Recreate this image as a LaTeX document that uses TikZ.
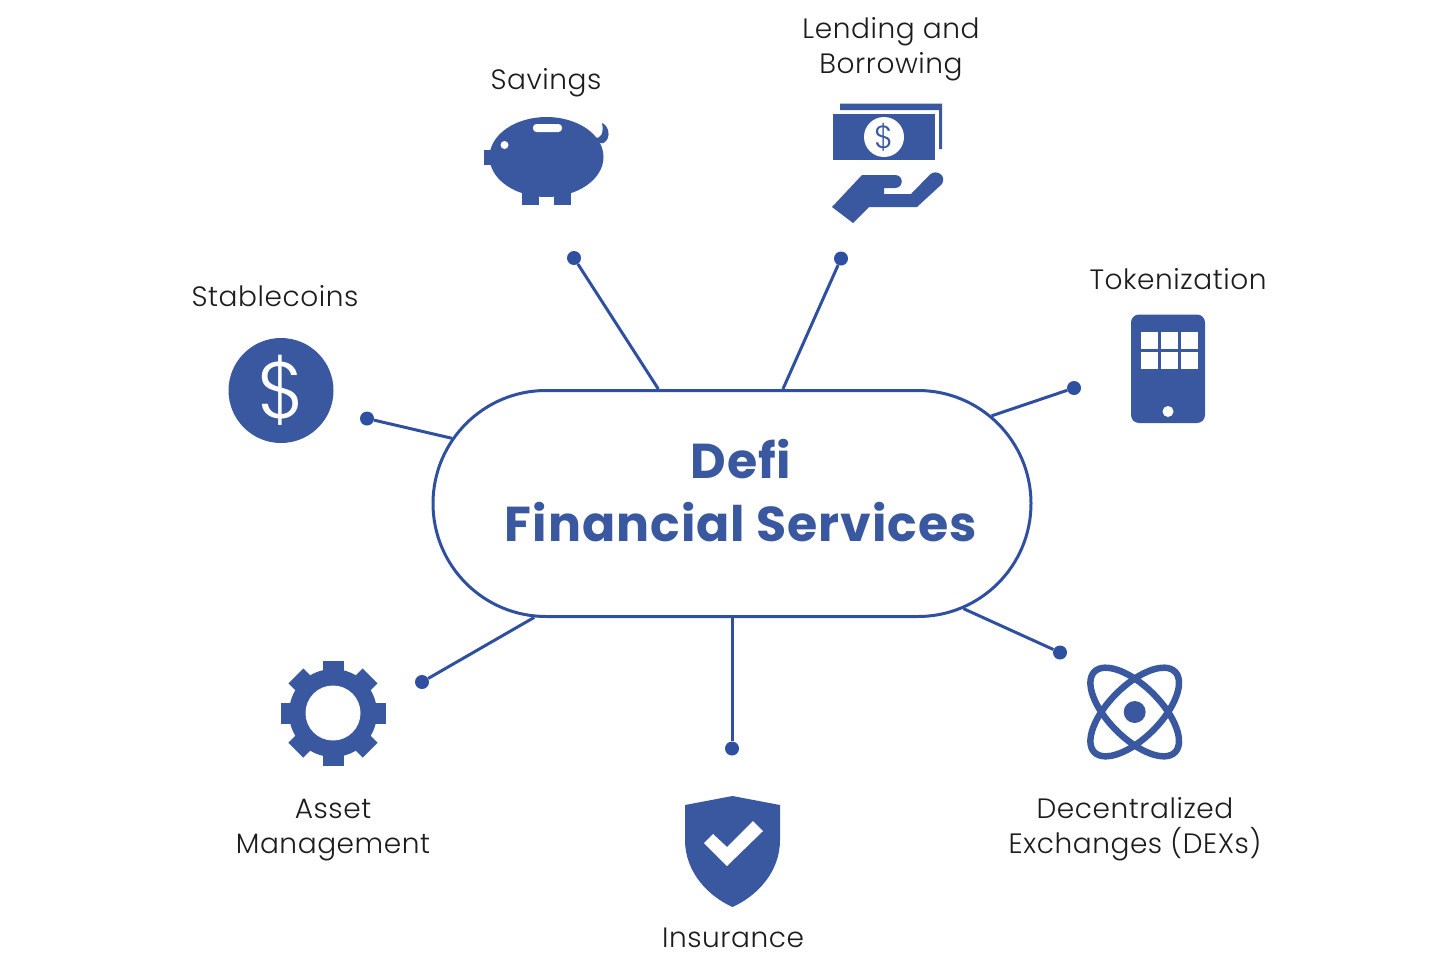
\documentclass[tikz,border=0pt]{standalone}
\usepackage{fontspec}
\setmainfont{Poppins}[UprightFont=* Light,BoldFont=* Bold,LetterSpace=2]
\usetikzlibrary{shapes.misc}
\definecolor{defiblue}{HTML}{3A58A0}
\definecolor{defiline}{HTML}{2F50A0}
\definecolor{defitext}{HTML}{1C1C1C}
\tikzset{dotstyle/.style={shape=circle,fill=defiline,minimum size=14pt,inner sep=0pt}}
\tikzset{labelstyle/.style={text=defitext,align=center,font=\fontsize{28}{35}\selectfont}}
\tikzset{iconfill/.style={fill=defiblue,draw=none}}
\begin{document}
\begin{tikzpicture}[x=1pt,y=-1pt]
\useasboundingbox (0,0) rectangle (1456,956);
% the central pill
\node[draw=defiline,line width=3pt,rounded rectangle,minimum width=598pt,minimum height=226pt,inner sep=0pt] (pill) at (732,503.5){};
\node[text=defiblue,align=center,font=\bfseries\fontsize{49}{63}\selectfont] (title) at (741,490.5) {Defi\\Financial Services};
% setup the dots and connect them
\foreach \name/\x/\y in {stable/367/418.5,save/574/258,lend/841/258.5,token/1074/388,asset/422/682,insure/732/748.5,dex/1060/652.5}
{
    \node[dotstyle] (\name) at (\x,\y){};
    \draw[defiline,line width=3pt] (\name) -- (pill);
}
% labels
\node[labelstyle] (stablelabel) at (275,296) {Stablecoins};
\node[labelstyle] (savelabel) at (546,83) {Savings};
\node[labelstyle] (lendlabel) at (891,49) {Lending and\\Borrowing};
\node[labelstyle] (tokenlabel) at (1178,279) {Tokenization};
\node[labelstyle] (assetlabel) at (333,830) {Asset\\Management};
\node[labelstyle] (insurelabel) at (733,938) {Insurance};
\node[labelstyle] (dexlabel) at (1135,829) {Decentralized\\Exchanges (DEXs)};
% stablecoin icon
\fill[iconfill] (281,390.5) circle (52.5pt);
\node[text=white,font=\fontsize{80}{80}\selectfont] (stabledollar) at (281,390) {\$};
% piggy bank icon
\fill[iconfill] (546.5,157) ellipse (57pt and 40pt);
\fill[iconfill] (483.5,150) rectangle (495,165);
\fill[iconfill] (522,190) rectangle (539,205);
\fill[iconfill] (554,190) rectangle (571,205);
\fill[iconfill] (594,137) .. controls (601,140) and (604,133) .. (602,123) .. controls (609,126) and (611,137) .. (605,142) .. controls (602,145) and (597,143) .. (594,137) -- cycle;
\fill[white,rounded corners=3.5pt] (533,124) rectangle (562,132);
\fill[white] (504.5,145) circle (4pt);
% money and hand icon
\fill[iconfill] (840,103.5) -- (942,103.5) -- (942,149) -- (939,149) -- (939,110) -- (840,110) -- cycle;
\fill[iconfill] (833,114) rectangle (935,159.5);
\fill[white] (884,137) circle (20pt);
\node[text=defiblue,font=\fontsize{32}{32}\selectfont] (lenddollar) at (884,137) {\$};
\fill[iconfill] (832,207) -- (862,175) -- (895,175) .. controls (904,175) and (904,188) .. (895,188) -- (884,188) -- (884,194) -- (911,194) -- (930,174.5)
    .. controls (936,169) and (947,175) .. (942,184) -- (917,207) -- (869,207) -- (853,223) -- cycle;
% tablet icon
\fill[iconfill,rounded corners=8pt] (1131,314.5) rectangle (1205,423);
\foreach \x in {1141,1161,1181}
{
    \foreach \y in {332,352}
    {
        \fill[white] (\x,\y) rectangle ++(17,17);
    }
}
\fill[white] (1168,411.5) circle (5.5pt);
% gear icon
\fill[iconfill] (333,713) circle (44pt);
\foreach \a in {0,45,90,135}
{
    \fill[iconfill,shift={(333,713)},rotate=\a] (-10.5,-52.5) rectangle (10.5,52.5);
}
\fill[white] (333,713) circle (27.5pt);
% shield icon
\fill[iconfill] (732.5,796) -- (780,805) -- (780,840) .. controls (780,872) and (757,896) .. (732.5,907) .. controls (708,896) and (685,872) .. (685,840) -- (685,805) -- cycle;
\fill[white] (704,843) -- (713,834) -- (727,847) -- (753,821) -- (763,831) -- (727,866) -- cycle;
% atom icon
\draw[defiblue,line width=6.5pt,rotate around={45:(1134.7,712)}] (1134.7,712) ellipse (57pt and 26pt);
\draw[defiblue,line width=6.5pt,rotate around={-45:(1134.7,712)}] (1134.7,712) ellipse (57pt and 26pt);
\fill[iconfill] (1134.7,712) circle (11pt);
\end{tikzpicture}
\end{document}
